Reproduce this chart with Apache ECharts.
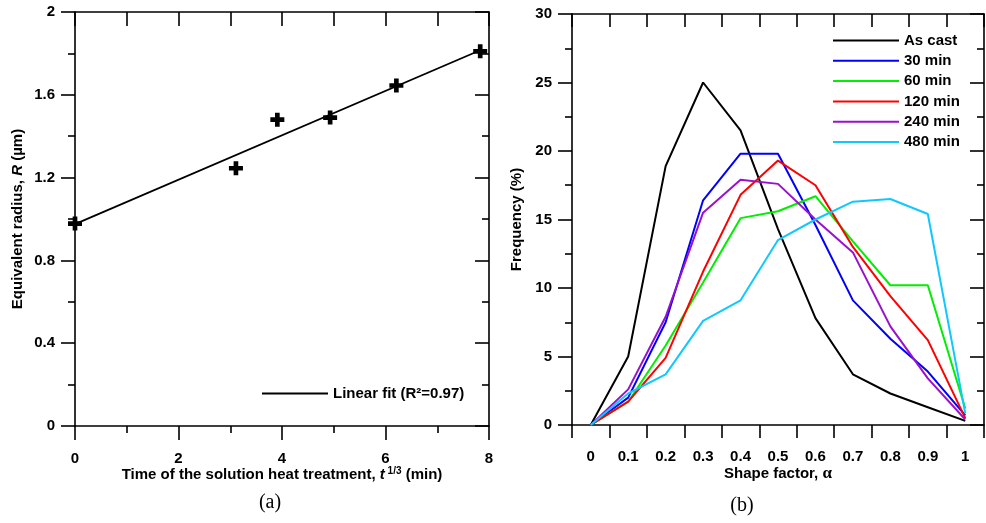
<!DOCTYPE html>
<html>
<head>
<meta charset="utf-8">
<script src="https://cdn.jsdelivr.net/npm/echarts@6/dist/echarts.min.js"></script>
<style>html,body{margin:0;padding:0;background:#fff}#c{width:986px;height:523px}</style>
</head>
<body>
<div id="c"></div>
<script>
// ---- Data: panel (a) ----
const tCubeRoot = [0, 3.11, 3.91, 4.93, 6.21, 7.83];
const radius = [0.978, 1.245, 1.48, 1.49, 1.645, 1.81];
const fitX = [0, 7.83];
const fitY = [0.975, 1.815];
const fitName = 'Linear fit (R²=0.97)';
// ---- Data: panel (b) ----
const shapeCats = ['0', '0.1', '0.2', '0.3', '0.4', '0.5', '0.6', '0.7', '0.8', '0.9', '1'];
const asCast = [0, 5.0, 18.9, 25.0, 21.5, 14.3, 7.8, 3.7, 2.3, 1.3, 0.3];
const min30  = [0, 2.0, 7.5, 16.4, 19.8, 19.8, 14.6, 9.1, 6.3, 3.9, 0.7];
const min60  = [0, 1.7, 5.8, 10.4, 15.1, 15.6, 16.7, 13.4, 10.2, 10.2, 1.2];
const min120 = [0, 1.7, 4.9, 11.2, 16.8, 19.3, 17.5, 13.0, 9.4, 6.2, 0.5];
const min240 = [0, 2.6, 7.9, 15.5, 17.9, 17.6, 15.0, 12.6, 7.2, 3.4, 0.4];
const min480 = [0, 2.3, 3.7, 7.6, 9.1, 13.5, 15.0, 16.3, 16.5, 15.4, 0.85];
const seriesNames = ['As cast', '30 min', '60 min', '120 min', '240 min', '480 min'];
const seriesData = [asCast, min30, min60, min120, min240, min480];
const seriesColors = ['#000000', '#0000ff', '#00ee00', '#ff0000', '#9a10cc', '#10c8ff'];

const FONT = 'Liberation Sans';
const lineStyleAxis = {color: '#000', width: 1.6};
const lbl = {color: '#000', fontFamily: FONT, fontWeight: 'bold', fontSize: 15};
const legendText = Object.assign({}, lbl, {lineHeight: 18});

const chart = echarts.init(document.getElementById('c'));
const plus = 'path://M-1,-3 H1 V-1 H3 V1 H1 V3 H-1 V1 H-3 V-1 H-1 Z';

function frameAxis(extra) {
  return Object.assign({
    axisLine: {show: true, onZero: false, lineStyle: lineStyleAxis},
    splitLine: {show: false},
    nameMoveOverlap: false
  }, extra);
}

const option = {
  backgroundColor: '#fff',
  animation: false,
  grid: [
    {left: 75, right: 497, top: 12, bottom: 97},
    {left: 572, right: 2, top: 14, bottom: 98}
  ],
  xAxis: [
    frameAxis({gridIndex: 0, type: 'value', min: 0, max: 8, interval: 2, position: 'bottom',
     axisTick: {show: true, length: 14, inside: false, lineStyle: lineStyleAxis},
     minorTick: {show: true, splitNumber: 2, length: 7, lineStyle: lineStyleAxis},
     axisLabel: Object.assign({margin: 25}, lbl),
     name: 'Time of the solution heat treatment, {i|t}{sup| 1/3} (min)',
     nameLocation: 'middle', nameGap: 40,
     nameTextStyle: Object.assign({}, lbl, {rich: {
       i: {fontFamily: FONT, fontWeight: 'bold', fontStyle: 'italic', fontSize: 15, color: '#000'},
       sup: {fontFamily: FONT, fontWeight: 'bold', fontSize: 10, color: '#000', verticalAlign: 'top', padding: [0, 0, 8, 0]}
     }})}),
    frameAxis({gridIndex: 0, type: 'value', min: 0, max: 8, interval: 1, position: 'top',
     axisTick: {show: true, length: 14, inside: true, lineStyle: lineStyleAxis},
     axisLabel: {show: false}}),
    frameAxis({gridIndex: 1, type: 'category', data: shapeCats, boundaryGap: true, position: 'bottom',
     axisTick: {show: true, length: 13, inside: false, interval: 0, alignWithLabel: false, lineStyle: lineStyleAxis},
     axisLabel: Object.assign({margin: 24, interval: 0}, lbl),
     name: 'Shape factor, {a|α}', nameLocation: 'middle', nameGap: 40,
     nameTextStyle: Object.assign({}, lbl, {rich: {
       a: {fontFamily: 'Liberation Serif', fontSize: 17, color: '#000'}
     }})}),
    frameAxis({gridIndex: 1, type: 'category', data: shapeCats, boundaryGap: true, position: 'top',
     axisTick: {show: true, length: 13, inside: true, interval: 0, lineStyle: lineStyleAxis},
     axisLabel: {show: false}})
  ],
  yAxis: [
    frameAxis({gridIndex: 0, type: 'value', min: 0, max: 2, interval: 0.4, position: 'left',
     axisTick: {show: true, length: 14, inside: false, lineStyle: lineStyleAxis},
     minorTick: {show: true, splitNumber: 2, length: 7, lineStyle: lineStyleAxis},
     axisLabel: Object.assign({margin: 20}, lbl),
     name: 'Equivalent radius, {i|R} (µm)', nameLocation: 'middle', nameGap: 50,
     nameTextStyle: Object.assign({}, lbl, {rich: {
       i: {fontFamily: FONT, fontWeight: 'bold', fontStyle: 'italic', fontSize: 15, color: '#000'}
     }})}),
    frameAxis({gridIndex: 0, type: 'value', min: 0, max: 2, interval: 0.4, position: 'right',
     axisTick: {show: true, length: 14, inside: true, lineStyle: lineStyleAxis},
     minorTick: {show: true, splitNumber: 2, length: 7, lineStyle: lineStyleAxis},
     axisLabel: {show: false}}),
    frameAxis({gridIndex: 1, type: 'value', min: 0, max: 30, interval: 5, position: 'left',
     axisTick: {show: true, length: 14, inside: false, lineStyle: lineStyleAxis},
     minorTick: {show: true, splitNumber: 2, length: 7, lineStyle: lineStyleAxis},
     axisLabel: Object.assign({margin: 20}, lbl),
     name: 'Frequency (%)', nameLocation: 'middle', nameGap: 48,
     nameTextStyle: lbl}),
    frameAxis({gridIndex: 1, type: 'value', min: 0, max: 30, interval: 5, position: 'right',
     axisTick: {show: true, length: 14, inside: true, lineStyle: lineStyleAxis},
     minorTick: {show: true, splitNumber: 2, length: 7, lineStyle: lineStyleAxis},
     axisLabel: {show: false}})
  ],
  legend: [
    {data: [fitName], left: 262, top: 384.5, orient: 'vertical', itemWidth: 66, itemHeight: 2,
     icon: 'rect', itemGap: 2.3, textStyle: legendText, padding: 0},
    {data: seriesNames, left: 833, top: 31.5, orient: 'vertical', itemWidth: 66, itemHeight: 2,
     icon: 'rect', itemGap: 2.3, textStyle: legendText, padding: 0}
  ],
  series: [
    {name: fitName, type: 'line', xAxisIndex: 0, yAxisIndex: 0,
     data: fitX.map((x, i) => [x, fitY[i]]), symbol: 'none',
     lineStyle: {color: '#000', width: 1.8}, itemStyle: {color: '#000'}},
    {name: 'data', type: 'scatter', xAxisIndex: 0, yAxisIndex: 0,
     data: tCubeRoot.map((x, i) => [x, radius[i]]), symbol: plus, symbolSize: 14,
     itemStyle: {color: '#000', opacity: 1}}
  ].concat(seriesNames.map((n, k) => ({
     name: n, type: 'line', xAxisIndex: 2, yAxisIndex: 2, data: seriesData[k],
     symbol: 'none', lineStyle: {color: seriesColors[k], width: 2}, itemStyle: {color: seriesColors[k]}
  }))),
  graphic: [
    {type: 'text', x: 270, y: 503, style: {text: '(a)', font: '20px "Liberation Serif"', fill: '#000', align: 'center', verticalAlign: 'middle'}},
    {type: 'text', x: 742, y: 506, style: {text: '(b)', font: '20px "Liberation Serif"', fill: '#000', align: 'center', verticalAlign: 'middle'}}
  ]
};
chart.setOption(option);
</script>
</body>
</html>
